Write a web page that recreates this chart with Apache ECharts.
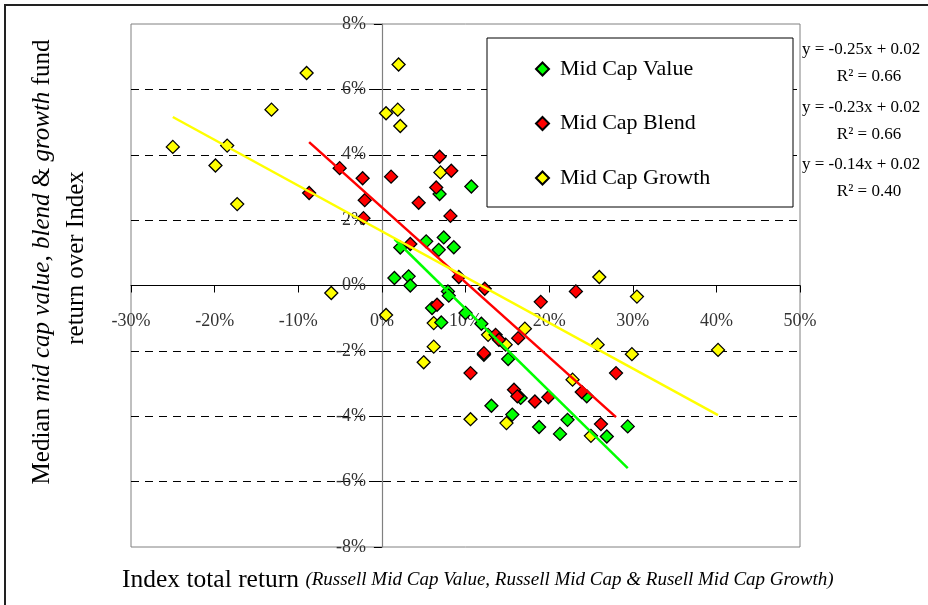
<!DOCTYPE html>
<html>
<head>
<meta charset="utf-8">
<script src="https://cdn.jsdelivr.net/npm/echarts@6/dist/echarts.min.js"></script>
<style>
  html, body { margin: 0; padding: 0; background: #fff; }
  #chart { width: 928px; height: 605px; }
</style>
</head>
<body>
<div id="chart"></div>
<script>
// points as [index total return %, fund return over index %]
const valuePoints = [
    [1.5, 0.23], [2.2, 1.16], [3.2, 0.28], [3.4, 0.0], [5.3, 1.35], [6.8, 1.09],
    [7.4, 1.47], [8.6, 1.17], [10.7, 3.03], [6.9, 2.80], [7.9, -0.18], [8.0, -0.31],
    [6.0, -0.69], [7.1, -1.13], [10.0, -0.84], [11.9, -1.17], [12.2, -2.12], [15.1, -2.25],
    [16.6, -3.44], [13.1, -3.68], [15.6, -3.95], [18.8, -4.33], [21.3, -4.54], [22.2, -4.11],
    [24.5, -3.39], [26.9, -4.62], [29.4, -4.31]
];
const blendPoints = [
    [-8.7, 2.83], [-5.05, 3.59], [-2.3, 3.28], [-2.05, 2.61], [-2.2, 2.06], [1.1, 3.33],
    [3.4, 1.27], [4.4, 2.53], [6.5, 3.0], [6.9, 3.94], [8.3, 3.51], [8.2, 2.13],
    [9.2, 0.26], [12.3, -0.1], [19.0, -0.5], [23.2, -0.18], [6.6, -0.59], [10.6, -2.68],
    [12.2, -2.07], [13.6, -1.51], [14.0, -1.66], [16.3, -1.61], [15.8, -3.19], [16.2, -3.39],
    [18.3, -3.55], [19.9, -3.42], [23.9, -3.26], [28.0, -2.68], [26.2, -4.24]
];
const growthPoints = [
    [-25.0, 4.24], [-19.9, 3.67], [-18.5, 4.28], [-17.3, 2.49], [-13.2, 5.38], [-9.0, 6.50],
    [-6.05, -0.23], [0.5, -0.9], [0.5, 5.27], [1.9, 5.38], [2.0, 6.76], [2.2, 4.88],
    [7.0, 3.46], [5.0, -2.35], [6.2, -1.15], [6.2, -1.87], [10.6, -4.09], [12.7, -1.51],
    [14.8, -1.81], [14.9, -4.21], [17.1, -1.32], [22.8, -2.88], [25.0, -4.6], [25.8, -1.81],
    [26.0, 0.26], [29.9, -2.10], [30.5, -0.34], [40.2, -1.97]
];
const seriesNames = ['Mid Cap Value', 'Mid Cap Blend', 'Mid Cap Growth'];
const equations = ['y = -0.25x + 0.02', 'y = -0.23x + 0.02', 'y = -0.14x + 0.02'];
const rSquared = ['R\u00b2 = 0.66', 'R\u00b2 = 0.66', 'R\u00b2 = 0.40'];
const xTicks = [-30, -20, -10, 0, 10, 20, 30, 40, 50];
const yTicks = [-8, -6, -4, -2, 0, 2, 4, 6, 8];

const colors = ['#00ff00', '#ff0000', '#ffff00'];
const font = '"Liberation Serif", "Times New Roman", serif';

// plot box in pixels
const W = 928, H = 605;
const gLeft = 131, gTop = 24, gRight = 128, gBottom = 58;
const gW = W - gLeft - gRight, gH = H - gTop - gBottom;
const xMin = xTicks[0], xMax = xTicks[xTicks.length - 1];
const yMin = yTicks[0], yMax = yTicks[yTicks.length - 1];
// axes cross at zero, move them there from the grid edge
const yAxisShift = gW * (0 - xMin) / (xMax - xMin);
const xAxisShift = gH * (0 - yMin) / (yMax - yMin);

// least squares trendline, drawn over the x range of the points
function trend(pts) {
    const n = pts.length;
    let sx = 0, sy = 0, sxx = 0, sxy = 0;
    pts.forEach(p => { sx += p[0]; sy += p[1]; sxx += p[0] * p[0]; sxy += p[0] * p[1]; });
    const b = (n * sxy - sx * sy) / (n * sxx - sx * sx);
    const a = (sy - b * sx) / n;
    const xs = pts.map(p => p[0]);
    const x0 = Math.min(...xs), x1 = Math.max(...xs);
    return [[x0, a + b * x0], [x1, a + b * x1]];
}

function scatter(name, data, color) {
    return {
        name: name,
        type: 'scatter',
        symbol: 'diamond',
        symbolSize: 13,
        itemStyle: { color: color, borderColor: '#000', borderWidth: 1.3, opacity: 1 },
        data: data
    };
}
function trendLine(name, data, color) {
    return {
        name: name,
        type: 'line',
        showSymbol: false,
        silent: true,
        z: 3,
        lineStyle: { color: color, width: 2.5 },
        data: trend(data)
    };
}

const chart = echarts.init(document.getElementById('chart'));

const eqTexts = [];
const eqY = [50, 108, 165];
equations.forEach((t, i) => {
    eqTexts.push({
        type: 'text', x: 802, y: eqY[i],
        style: { text: t, font: '17px ' + font, fill: '#000', align: 'left', verticalAlign: 'middle' }
    });
    eqTexts.push({
        type: 'text', x: 869, y: eqY[i] + 27,
        style: { text: rSquared[i], font: '17px ' + font, fill: '#000', align: 'center', verticalAlign: 'middle' }
    });
});

const option = {
    backgroundColor: '#fff',
    animation: false,
    grid: {
        left: gLeft, top: gTop, right: gRight, bottom: gBottom,
        show: true, borderColor: '#808080', borderWidth: 1
    },
    legend: {
        data: seriesNames,
        orient: 'vertical',
        left: 535, top: 58,
        padding: 0,
        itemWidth: 13, itemHeight: 13, itemGap: 32.5,
        icon: 'diamond',
        textStyle: { fontFamily: font, fontSize: 22, color: '#000', lineHeight: 22, padding: [0, 0, 0, 6] }
    },
    xAxis: {
        type: 'value',
        position: 'bottom',
        offset: -xAxisShift,
        min: xMin, max: xMax, interval: 10,
        axisLine: { onZero: false, lineStyle: { color: '#000', width: 1 } },
        axisTick: { show: true, length: 7, lineStyle: { color: '#000' } },
        axisLabel: {
            margin: 27, fontFamily: font, fontSize: 18, color: '#333',
            formatter: v => v + '%'
        },
        splitLine: { show: false }
    },
    yAxis: {
        type: 'value',
        position: 'left',
        offset: -yAxisShift,
        min: yMin, max: yMax, interval: 2,
        axisLine: { onZero: false, lineStyle: { color: '#808080', width: 1.2 } },
        axisTick: { show: true, length: 8, lineStyle: { color: '#000' } },
        axisLabel: {
            margin: 16, fontFamily: font, fontSize: 18, color: '#333',
            formatter: v => v + '%'
        },
        splitLine: {
            show: true, showMinLine: false, showMaxLine: false,
            lineStyle: { color: '#000', width: 1, type: [8, 6] }
        }
    },
    graphic: [
        // outer frame
        { type: 'rect', shape: { x: 5, y: 5, width: 1000, height: 700 },
          style: { fill: null, stroke: '#222', lineWidth: 2 }, silent: true },
        // legend box
        { type: 'rect', z: 1, shape: { x: 487, y: 38, width: 306, height: 169 },
          style: { fill: '#fff', stroke: '#000', lineWidth: 1 }, silent: true },
        {
            type: 'text', x: 42, y: 262, rotation: Math.PI / 2,
            style: {
                text: '{n|Median }{i|mid cap value}{n|, }{i|blend}{n| & }{i|growth}{n| fund}',
                align: 'center', verticalAlign: 'middle', fill: '#000',
                rich: {
                    n: { fontFamily: font, fontSize: 25, fill: '#000' },
                    i: { fontFamily: font, fontSize: 25, fontStyle: 'italic', fill: '#000' }
                }
            }
        },
        {
            type: 'text', x: 76, y: 258, rotation: Math.PI / 2,
            style: {
                text: 'return over Index', font: '25px ' + font, fill: '#000',
                align: 'center', verticalAlign: 'middle'
            }
        },
        {
            type: 'text', x: 122, y: 580,
            style: {
                text: '{n|Index total return }{i|(Russell Mid Cap Value, Russell Mid Cap & Rusell Mid Cap Growth)}',
                align: 'left', verticalAlign: 'middle', fill: '#000',
                rich: {
                    n: { fontFamily: font, fontSize: 25.5, fill: '#000' },
                    i: { fontFamily: font, fontSize: 19, fontStyle: 'italic', fill: '#000' }
                }
            }
        }
    ].concat(eqTexts),
    series: [
        scatter(seriesNames[2], growthPoints, colors[2]),
        scatter(seriesNames[0], valuePoints, colors[0]),
        scatter(seriesNames[1], blendPoints, colors[1]),
        trendLine('t0', valuePoints, colors[0]),
        trendLine('t1', blendPoints, colors[1]),
        trendLine('t2', growthPoints, colors[2])
    ]
};

chart.setOption(option);
</script>
</body>
</html>
